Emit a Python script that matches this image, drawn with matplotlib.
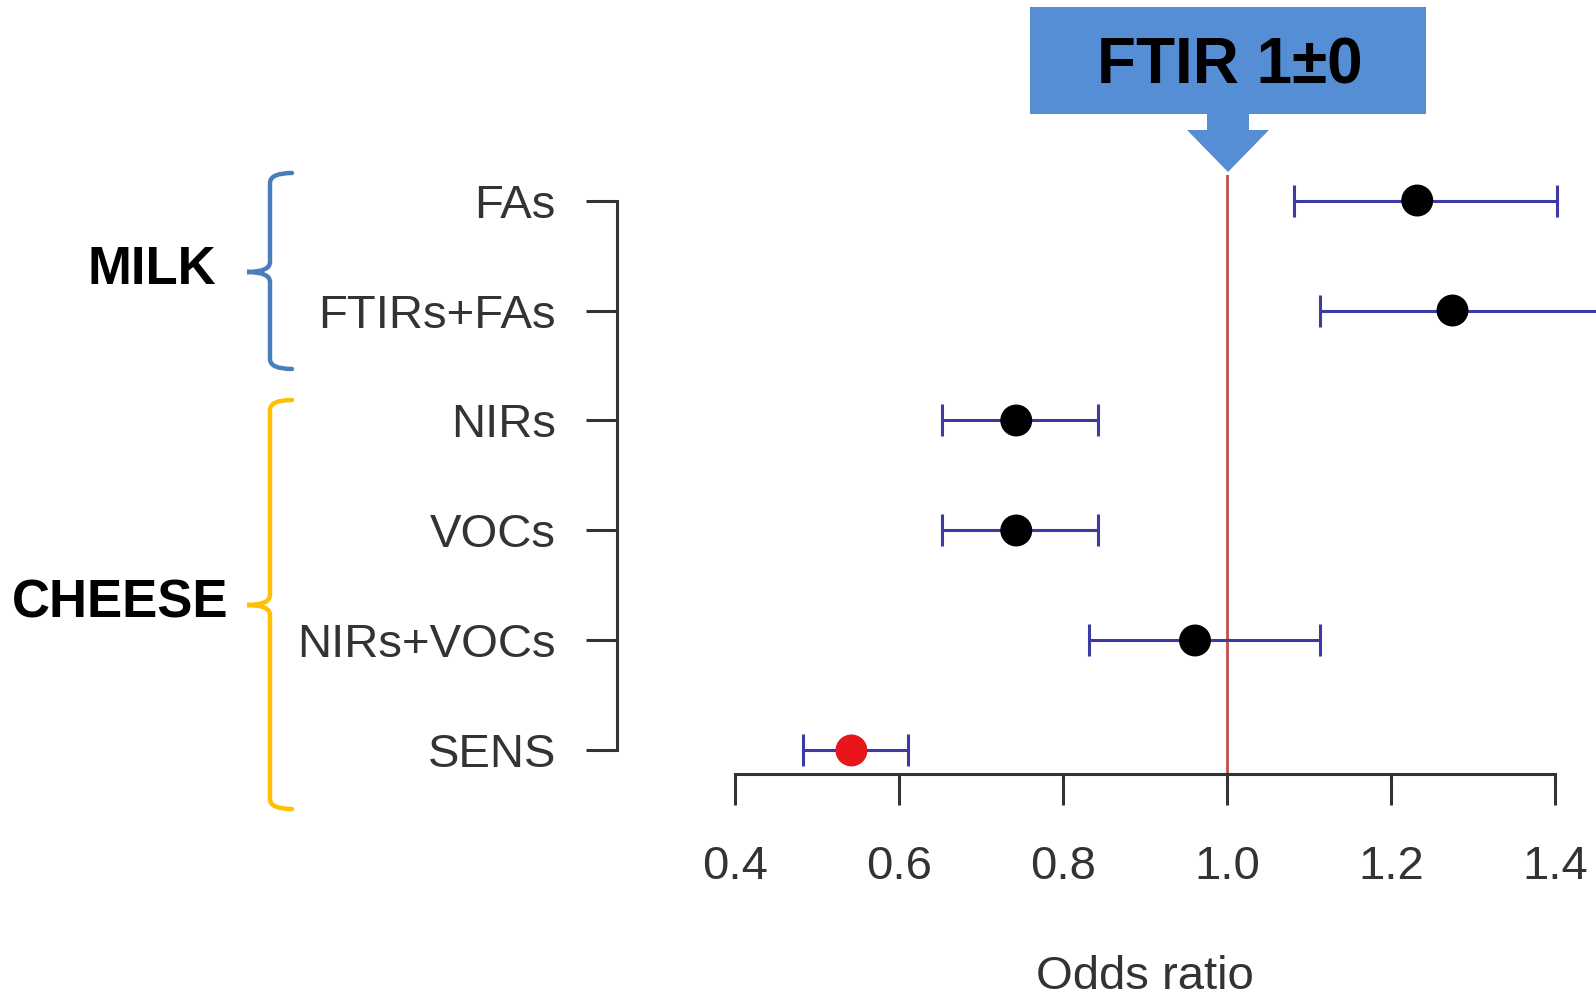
import numpy as np
import matplotlib
matplotlib.use("Agg")
import matplotlib.pyplot as plt
import matplotlib.transforms as mtransforms
from matplotlib.path import Path
from matplotlib.patches import PathPatch, Rectangle, Polygon

plt.rcParams['font.family'] = ['Liberation Sans', 'DejaVu Sans']

# data
methods = ["FAs", "FTIRs+FAs", "NIRs", "VOCs", "NIRs+VOCs", "SENS"]
odds = [1.232, 1.275, 0.743, 0.743, 0.961, 0.542]
ci_low = [1.082, 1.113, 0.653, 0.653, 0.832, 0.483]
ci_high = [1.402, 1.46, 0.843, 0.843, 1.113, 0.611]
point_colors = ["black", "black", "black", "black", "black", "#e8151b"]
xticks = [0.4, 0.6, 0.8, 1.0, 1.2, 1.4]
groups = ["MILK", "CHEESE"]
group_colors = ["#4a7ebb", "#ffc000"]
reference_label = "FTIR 1\u00b10"
reference_value = 1.0

W, H = 1596, 997
fig = plt.figure(figsize=(W / 100, H / 100), dpi=100)


def fx(x):
    return x / W


def fy(y):
    return 1 - y / H


# main axes, placed so that the detached R-style axes land where they are in the picture
ax = fig.add_axes([fx(617), fy(774), 1 - fx(617), fy(175) - fy(774)])
ypos = np.arange(len(methods))
ax.set_xlim(0.2561, 1.45)
ax.set_ylim(5.214, -0.232)

odds = np.array(odds)
err = [odds - np.array(ci_low), np.array(ci_high) - odds]
ax.errorbar(odds, ypos, xerr=err, fmt="none", ecolor="#3b3ba3", elinewidth=2.2,
            capsize=11.5, capthick=2.2, zorder=2)
ax.scatter(odds, ypos, s=23 ** 2, c=point_colors, marker="o", zorder=3, linewidths=0)
ax.axvline(reference_value, color="#c0504d", lw=2, zorder=1)

for side in ["top", "right"]:
    ax.spines[side].set_visible(False)
ax.spines["left"].set_bounds(0, len(methods) - 1)
ax.spines["bottom"].set_bounds(xticks[0], xticks[-1])
for side in ["left", "bottom"]:
    ax.spines[side].set_linewidth(2.2)
    ax.spines[side].set_color("#333333")

ax.set_yticks(ypos)
ax.set_yticklabels(methods)
ax.set_xticks(xticks)
ax.set_xticklabels([f"{t:.1f}" for t in xticks])
ax.tick_params(axis="y", length=22, width=2.2, color="#333333", pad=22,
               labelsize=34, labelcolor="#333333")
ax.tick_params(axis="x", length=22, width=2.2, color="#333333", pad=29,
               labelsize=34, labelcolor="#333333")
ax.patch.set_visible(False)

label_tr = mtransforms.blended_transform_factory(ax.transData, fig.transFigure)
ax.text((xticks[0] + xticks[-1]) / 2, fy(977), "Odds ratio", fontsize=34, color="#333333",
        ha="center", va="center", transform=label_tr)

# callout box with the arrow pointing at the reference line
fig.patches.append(Rectangle((fx(1030), fy(114)), fx(1426) - fx(1030), fy(7) - fy(114),
                             transform=fig.transFigure, color="#558ed5", lw=0))
arrow = [(1207, 113), (1249, 113), (1249, 130), (1269, 130), (1228, 172),
         (1187, 130), (1207, 130)]
fig.patches.append(Polygon([(fx(x), fy(y)) for x, y in arrow], closed=True,
                           transform=fig.transFigure, color="#558ed5", lw=0))
fig.text(fx(1230), fy(66), reference_label, fontsize=46, fontweight="bold",
         ha="center", va="center", color="black")


def brace(y_top, y_mid, y_bot, color):
    x_end, x_line, x_tip = 292, 270, 247
    r = 10
    verts = [(x_end, y_top), (x_line, y_top), (x_line, y_top + r),
             (x_line, y_mid - r), (x_line, y_mid), (x_tip, y_mid),
             (x_line, y_mid), (x_line, y_mid + r),
             (x_line, y_bot - r), (x_line, y_bot), (x_end, y_bot)]
    codes = [Path.MOVETO, Path.CURVE3, Path.CURVE3,
             Path.LINETO, Path.CURVE3, Path.CURVE3,
             Path.CURVE3, Path.CURVE3,
             Path.LINETO, Path.CURVE3, Path.CURVE3]
    path = Path([(fx(x), fy(y)) for x, y in verts], codes)
    fig.patches.append(PathPatch(path, transform=fig.transFigure, fill=False,
                                 edgecolor=color, lw=3.2, capstyle="round"))


brace(173, 272, 369, group_colors[0])
brace(400, 605, 809, group_colors[1])
fig.text(fx(216), fy(270), groups[0], fontsize=38, fontweight="bold", ha="right", va="center")
fig.text(fx(228), fy(603), groups[1], fontsize=38, fontweight="bold", ha="right", va="center")

fig.savefig("out.png", dpi=100)
